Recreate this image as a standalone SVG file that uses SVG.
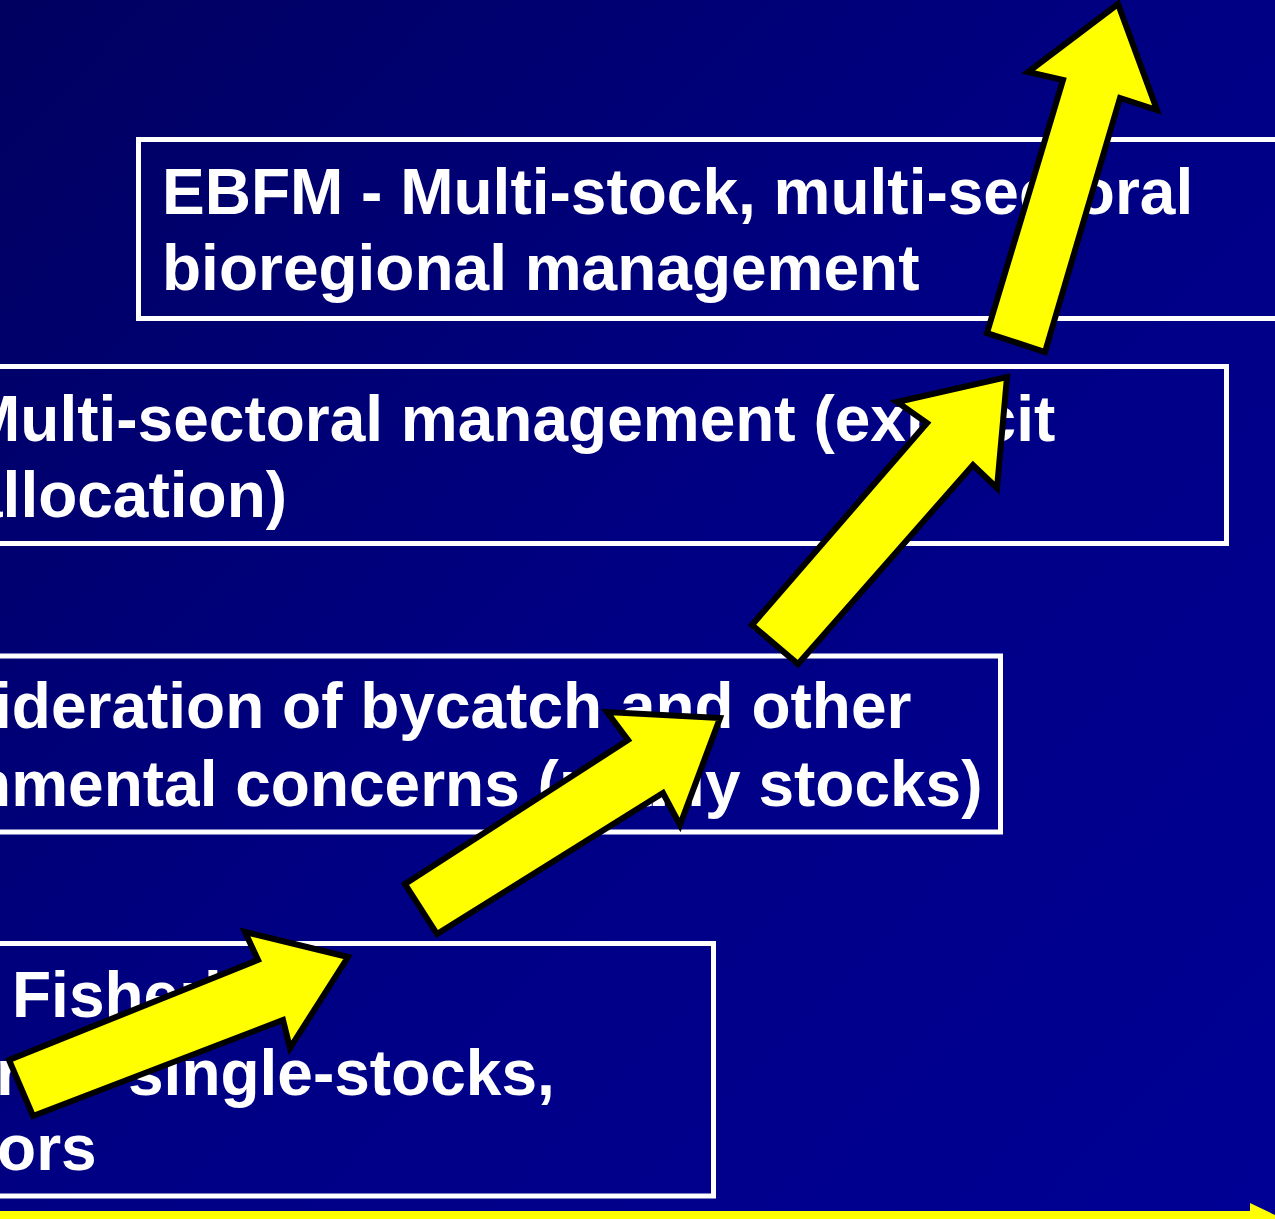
<svg xmlns="http://www.w3.org/2000/svg" width="1275" height="1219" viewBox="0 0 1275 1219">
<defs>
<linearGradient id="bg" x1="0" y1="0" x2="1275" y2="1219" gradientUnits="userSpaceOnUse">
<stop offset="0" stop-color="#000060"/>
<stop offset="0.5" stop-color="#000084"/>
<stop offset="1" stop-color="#000094"/>
</linearGradient>
<style>
.box{fill:none;stroke:#ffffff;stroke-width:5}
.t{font-family:"Liberation Sans",Arial,sans-serif;font-weight:bold;font-size:64px;fill:#ffffff}
.arr{fill:#ffff00;stroke:#000000;stroke-width:6;stroke-linejoin:miter}
</style>
</defs>
<rect x="0" y="0" width="1275" height="1219" fill="url(#bg)"/>
<g id="box-ebfm">
<rect class="box" x="138.5" y="139.5" width="1200" height="179"/>
<text class="t" x="162" y="214">EBFM - Multi-stock, multi-sectoral</text>
<text class="t" x="162" y="290">bioregional management</text>
</g>
<g id="box-multisectoral">
<rect class="box" x="-20" y="366.5" width="1246.5" height="177"/>
<text class="t" x="-33" y="441">Multi-sectoral management (explicit</text>
<text class="t" x="-33" y="517">allocation)</text>
</g>
<g id="box-bycatch">
<rect class="box" x="-20" y="656" width="1020.5" height="176"/>
<text class="t" x="-166" y="728">Consideration of bycatch and other</text>
<text class="t" x="-220" y="806">environmental concerns (mai<tspan dx="-21">nly stocks)</tspan></text>
</g>
<g id="box-fisheries">
<rect class="box" x="-20" y="943.5" width="733.5" height="252.5"/>
<text class="t" x="12" y="1017">Fisheries</text>
<text class="t" y="1095"><tspan x="-4">r</tspan><tspan x="128">single-stocks,</tspan></text>
<text class="t" x="-131" y="1170">sectors</text>
</g>
<g id="connectors">
<polygon class="arr" points="9,1060 258,960 245,932 348,957 290,1048 283,1020 33,1116"/>
<polygon class="arr" points="405,884 628,740 607,712 720,718 680,825 663,793 437,934"/>
<polygon class="arr" points="752,625 927,423 897,402 1007,377 997,488 973,465 798,664"/>
<polygon class="arr" points="987,333 1063,80 1028,72 1118,4 1157,110 1120,98 1045,352"/>
<path d="M0,1211 H1250 V1203 L1277,1216 L1277,1219 H0 Z" fill="#ffff00"/>
</g>
</svg>
